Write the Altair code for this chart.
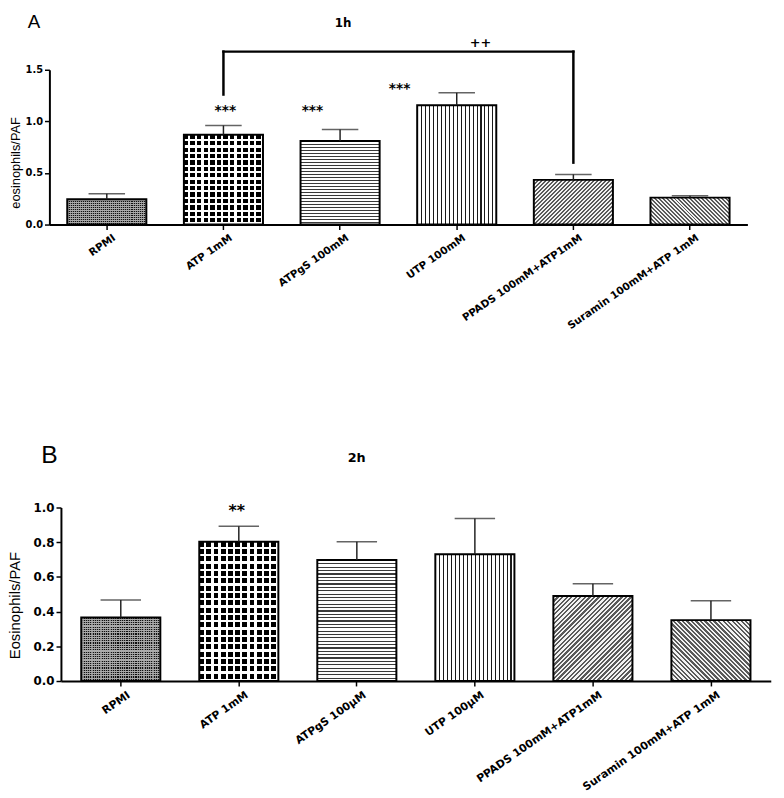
import math
import altair as alt
import pandas as pd

# ---------------- data ----------------
keys = ["RPMI", "ATP", "ATPgS", "UTP", "PPADS", "Suramin"]
labels_a = ["RPMI", "ATP 1mM", "ATPgS 100mM", "UTP 100mM",
            "PPADS 100mM+ATP1mM", "Suramin 100mM+ATP 1mM"]
labels_b = ["RPMI", "ATP 1mM", "ATPgS 100\u00b5M", "UTP 100\u00b5M",
            "PPADS 100mM+ATP1mM", "Suramin 100mM+ATP 1mM"]
mean_a = [0.245, 0.871, 0.810, 1.157, 0.433, 0.261]
upper_a = [0.299, 0.960, 0.922, 1.277, 0.486, 0.280]
mean_b = [0.366, 0.803, 0.698, 0.731, 0.490, 0.351]
upper_b = [0.467, 0.892, 0.803, 0.937, 0.561, 0.463]

panel_letters = ["A", "B"]
panel_times = ["1h", "2h"]
y_titles = ["eosinophils/PAF", "Eosinophils/PAF"]
y_ticks_a = [0.0, 0.5, 1.0, 1.5]
y_ticks_b = [0.0, 0.2, 0.4, 0.6, 0.8, 1.0]

stars_a_labels = ["ATP 1mM", "ATPgS 100mM", "UTP 100mM"]
stars_a_y = [1.128, 1.128, 1.343]
stars_a_text = ["***", "***", "***"]
stars_b_labels = ["ATP 1mM"]
stars_b_y = [1.0]
stars_b_text = ["**"]

bracket_from = "ATP 1mM"
bracket_to = "PPADS 100mM+ATP1mM"
bracket_top = 1.676
bracket_ends = [1.26, 0.60]
bracket_text = "++"
bracket_text_at = "UTP 100mM"
bracket_text_y = 1.762

CLEAR = "rgba(255,255,255,0)"


# ---------------- pattern helpers (styles) ----------------
def stops(n, c1, c2, frac):
    n = max(1, int(round(n)))
    out = []
    for i in range(n):
        a = round(i / n, 5)
        m = round((i + frac) / n, 5)
        b = round((i + 1) / n, 5)
        out += [{"offset": a, "color": c1}, {"offset": m, "color": c1},
                {"offset": m, "color": c2}, {"offset": b, "color": c2}]
    return out


def lin(x1, y1, x2, y2, st):
    return {"gradient": "linear", "x1": x1, "y1": y1, "x2": x2, "y2": y2, "stops": st}


def diag(w, h, repeat, c1, c2, frac, forward):
    # repeat = stripe repeat measured along x+y (pixels)
    k = (w + h) / (w * w + h * h)
    n = (w + h) / repeat
    if forward:
        return lin(0, 0, round(k * w, 5), round(k * h, 5), stops(n, c1, c2, frac))
    return lin(1, 0, round(1 - k * w, 5), round(k * h, 5), stops(n, c1, c2, frac))


def tiles(w, h, p, dark, light, over, f):
    return [lin(0, 0, 1, 0, stops(w / p, dark, light, f)),
            lin(0, 0, 0, 1, stops(h / p, CLEAR, over, f))]


def pattern(key, w, h, s):
    if key == "RPMI":
        return tiles(w, h, 2.0 * s, "#111111", "#888888", "#aaaaaa", 0.5)
    if key == "ATP":
        return tiles(w, h, 6.6 * s, "#000000", "#ffffff", "#ffffff", 0.66)
    if key == "ATPgS":
        return [lin(0, 0, 0, 1, stops(h / (3.0 * s), "#3a3a3a", "#ffffff", 0.34))]
    if key == "UTP":
        return [lin(0, 0, 1, 0, stops(w / 4.0, "#1a1a1a", "#ffffff", 0.27))]
    if key == "PPADS":
        return [diag(w, h, 4.0 * s, "#5a5a5a", "#f2f2f2", 0.5, True)]
    return [diag(w, h, 4.0 * s, "#5a5a5a", "#f2f2f2", 0.5, False)]


# ---------------- panel builder ----------------
def panel(i, labels, means, uppers, W, H, ymax, yticks, pi, po, s, opts):
    df = pd.DataFrame({"label": labels, "mean": means, "upper": uppers, "key": keys})
    x0 = opts["x0"]
    xscale = alt.Scale(domain=labels, range=[x0, x0 + W], paddingInner=pi, paddingOuter=po)
    yscale = alt.Scale(domain=[0, ymax], nice=False, zero=True)
    xaxis = alt.Axis(domainColor="black", domainWidth=2, tickColor="black", tickWidth=1.5,
                     tickSize=5, labelAngle=-35, labelAlign="right", labelBaseline="top",
                     labelFont="DejaVu Sans", labelFontWeight="bold",
                     labelFontSize=opts["xlab"], labelColor="black", labelOffset=5,
                     labelPadding=3, labelLimit=400, labelOverlap=False, grid=False, zindex=1)
    yaxis = alt.Axis(values=yticks, format=".1f", domainColor="black", domainWidth=2,
                     tickColor="black", tickWidth=1.5, tickSize=5, labelFont="DejaVu Sans",
                     labelFontWeight="bold", labelFontSize=opts["ylab"], labelColor="black",
                     labelPadding=2, titleFont="Liberation Sans", titleFontSize=opts["ytitle"],
                     titleFontWeight="normal", titleColor="black", titleX=opts["titleX"],
                     titleY=opts["titleY"], grid=False, zindex=1, offset=-x0)

    def X(f):
        return alt.X(f + ":N", scale=xscale, axis=xaxis, title=None)

    def Y(f):
        return alt.Y(f + ":Q", scale=yscale, axis=yaxis, title=y_titles[i])

    step = W / (6 - pi + 2 * po)
    bw = step * (1 - pi)
    layers = []
    for j, k in enumerate(keys):
        h = means[j] * H / ymax
        for fill in pattern(k, bw, h, s):
            layers.append(alt.Chart(df).transform_filter(alt.datum.key == k)
                          .mark_bar(fill=fill).encode(x=X("label"), y=Y("mean")))
    layers.append(alt.Chart(df).mark_bar(fillOpacity=0, stroke="black", strokeWidth=2)
                  .encode(x=X("label"), y=Y("mean")))
    layers.append(alt.Chart(df).mark_rule(color="#222222", strokeWidth=1.5)
                  .encode(x=X("label"), y=Y("mean"), y2="upper:Q"))
    layers.append(alt.Chart(df).mark_tick(color="#222222", thickness=1.5, size=opts["cap"])
                  .encode(x=X("label"), y=Y("upper")))

    # significance stars
    for lab, yv, tx, dx in zip(opts["star_labels"], opts["star_y"], opts["star_text"], opts["star_dx"]):
        sdf = pd.DataFrame({"label": [lab], "y": [yv], "t": [tx]})
        layers.append(alt.Chart(sdf).mark_text(font="DejaVu Sans", fontWeight="bold",
                                               fontSize=opts["star_size"], color="black",
                                               baseline="middle", dx=dx, dy=opts["star_dy"])
                      .encode(x=X("label"), y=Y("y"), text="t:N"))

    # bracket
    if opts.get("bracket"):
        hdf = pd.DataFrame({"a": [bracket_from], "b": [bracket_to], "y": [bracket_top]})
        layers.append(alt.Chart(hdf).mark_rule(color="black", strokeWidth=2.5, strokeCap="square")
                      .encode(x=alt.X("a:N", scale=xscale, axis=xaxis, title=None, bandPosition=0.5),
                              x2=alt.X2("b:N", bandPosition=0.5), y=Y("y")))
        vdf = pd.DataFrame({"label": [bracket_from, bracket_to], "y": bracket_ends,
                            "y2": [bracket_top, bracket_top]})
        layers.append(alt.Chart(vdf).mark_rule(color="black", strokeWidth=2.5, strokeCap="square")
                      .encode(x=X("label"), y=Y("y"), y2="y2:Q"))
        tdf = pd.DataFrame({"label": [bracket_text_at], "y": [bracket_text_y], "t": [bracket_text]})
        layers.append(alt.Chart(tdf).mark_text(font="DejaVu Sans", fontWeight="bold", fontSize=13,
                                               color="black", baseline="middle", dx=24)
                      .encode(x=X("label"), y=Y("y"), text="t:N"))

    # panel letter and time label
    ldf = pd.DataFrame({"t": [panel_letters[i]]})
    layers.append(alt.Chart(ldf).mark_text(font="Liberation Sans", fontSize=opts["letter_size"],
                                           color="black", align="left", baseline="alphabetic")
                  .encode(text="t:N", x=alt.value(opts["letter_x"]), y=alt.value(opts["letter_y"])))
    tdf2 = pd.DataFrame({"t": [panel_times[i]]})
    layers.append(alt.Chart(tdf2).mark_text(font="DejaVu Sans", fontWeight="bold",
                                            fontSize=opts["time_size"], color="black",
                                            align="center", baseline="middle")
                  .encode(text="t:N", x=alt.value(opts["time_x"]), y=alt.value(opts["time_y"])))

    return alt.layer(*layers).properties(width=W + x0, height=H)


chart_a = panel(0, labels_a, mean_a, upper_a, 708, 157, 1.5, y_ticks_a, 0.322, 0.153, 1.0, {
    "x0": 0, "xlab": 10.5, "ylab": 10, "ytitle": 13, "titleX": -27, "titleY": 94, "cap": 37,
    "star_labels": stars_a_labels, "star_y": stars_a_y, "star_text": stars_a_text,
    "star_dx": [2, -28, -58], "star_size": 14, "star_dy": 3, "bracket": True,
    "letter_size": 19, "letter_x": -22, "letter_y": -42, "time_size": 12,
    "time_x": 298, "time_y": -47,
})

chart_b = panel(1, labels_b, mean_b, upper_b, 720, 176, 1.0, y_ticks_b, 0.33, 0.172, 1.15, {
    "x0": 11.7, "xlab": 11, "ylab": 12, "ytitle": 15, "titleX": -38.7, "titleY": 99, "cap": 41,
    "star_labels": stars_b_labels, "star_y": stars_b_y, "star_text": stars_b_text,
    "star_dx": [-2], "star_size": 16, "star_dy": 4, "bracket": False,
    "letter_size": 25, "letter_x": -8.3, "letter_y": -45, "time_size": 13,
    "time_x": 311.7, "time_y": -50,
})

chart = alt.concat(chart_a, chart_b, columns=1, align="none", spacing=113).properties(
    padding={"left": 0, "top": 0, "right": 5, "bottom": 0}
).configure(background="white").configure_view(strokeWidth=0, stroke="transparent")

chart.save("out.html", embed_options={"renderer": "svg", "actions": False})
